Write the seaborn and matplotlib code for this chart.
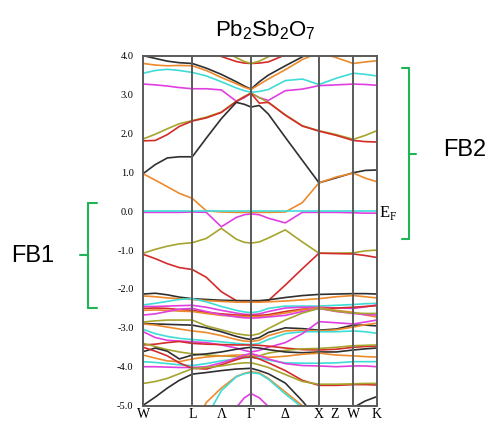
import numpy as np
import pandas as pd
import matplotlib
matplotlib.use("Agg")
import matplotlib.pyplot as plt
import seaborn as sns
from matplotlib.lines import Line2D
from matplotlib.ticker import MultipleLocator

sns.set_style("white")
plt.rcParams["font.family"] = ["Liberation Sans", "DejaVu Sans"]
plt.rcParams["text.color"] = "black"
plt.rcParams["xtick.color"] = "black"
plt.rcParams["ytick.color"] = "black"

# ---- k-path (distance along path) ----
kgrid = [0, 12, 24, 36, 49, 63, 78, 93, 101, 107.7, 116, 125, 142, 159, 175.7, 193, 210, 222, 233.4]
sym_pos = [0, 49, 78.4, 107.7, 141.7, 175.7, 191.7, 210, 233.4]
sym_labels = ["W", "L", "Λ", "Γ", "Δ", "X", "Z", "W", "K"]
vlines_k = [49, 107.7, 175.7, 210]

# ---- colours ----
BLK, ORG, CYN, MAG, OLV, RED = "#2f2f2f", "#ec8a2c", "#3fdcd6", "#e03fe0", "#a6a42e", "#d42b2b"

# ---- conduction bands ----
c_red_top    = [4.6, 4.5, 4.4, 4.3, 4.25, 4.15, 3.98, 3.85, 3.81, 3.80, 3.81, 3.84, 4.02, 4.2, 4.3, 4.3, 4.3, 4.3, 4.3]
c_olive_top  = [4.6, 4.5, 4.4, 4.3, 4.3, 4.25, 4.15, 3.95, 3.85, 3.80, 3.86, 3.97, 4.2, 4.3, 4.3, 4.3, 4.3, 4.3, 4.3]
c_black_top  = [4.00, 3.93, 3.86, 3.82, 3.80, 3.68, 3.52, 3.33, 3.22, 3.14, 3.33, 3.50, 3.74, 3.97, 4.2, 4.3, 4.3, 4.3, 4.3]
c_orange_top = [3.80, 3.76, 3.74, 3.75, 3.74, 3.62, 3.44, 3.28, 3.19, 3.13, 3.26, 3.40, 3.64, 3.90, 4.08, 3.95, 3.80, 3.84, 3.87]
c_cyan       = [3.55, 3.62, 3.65, 3.62, 3.57, 3.48, 3.33, 3.17, 3.10, 3.06, 3.08, 3.13, 3.36, 3.40, 3.26, 3.42, 3.55, 3.52, 3.48]
c_magenta    = [3.27, 3.25, 3.22, 3.18, 3.15, 3.15, 3.12, 2.83, 2.92, 3.04, 2.92, 2.85, 3.10, 3.14, 3.23, 3.25, 3.27, 3.26, 3.24]
c_olive      = [1.86, 1.98, 2.12, 2.25, 2.33, 2.42, 2.55, 2.83, 2.95, 3.04, 2.92, 2.80, 2.48, 2.20, 2.07, 1.97, 1.85, 1.95, 2.07]
c_red        = [1.81, 1.82, 1.97, 2.18, 2.32, 2.40, 2.54, 2.82, 2.94, 3.03, 2.78, 2.80, 2.47, 2.19, 2.06, 1.95, 1.82, 1.79, 1.78]
c_black      = [0.97, 1.20, 1.37, 1.40, 1.40, 1.88, 2.38, 2.80, 2.75, 2.68, 2.72, 2.50, 1.90, 1.31, 0.73, 0.86, 0.99, 1.05, 1.06]
c_orange     = [0.96, 0.80, 0.63, 0.46, 0.33, 0.01, -0.02, -0.03, -0.03, -0.03, -0.03, -0.03, -0.02, 0.22, 0.73, 0.88, 0.98, 0.85, 0.76]

# ---- flat bands near E_F ----
f_cyan    = [0.00, 0.00, 0.00, 0.00, 0.00, 0.00, 0.00, 0.00, 0.00, 0.00, 0.00, 0.00, 0.00, 0.00, 0.00, 0.00, 0.00, 0.00, 0.00]
f_magenta = [-0.03, -0.03, -0.03, -0.03, -0.02, -0.03, -0.40, -0.16, -0.09, -0.07, -0.09, -0.18, -0.30, -0.03, -0.03, -0.03, -0.04, -0.05, -0.05]
f_olive   = [-1.08, -0.98, -0.90, -0.84, -0.81, -0.70, -0.44, -0.72, -0.80, -0.82, -0.79, -0.69, -0.48, -0.79, -1.08, -1.08, -1.07, -1.02, -1.00]
v_red     = [-1.11, -1.22, -1.35, -1.45, -1.50, -1.70, -2.07, -2.30, -2.31, -2.31, -2.31, -2.30, -1.90, -1.48, -1.08, -1.09, -1.10, -1.14, -1.19]

# ---- dense valence bands ----
v01_black   = [-2.13, -2.11, -2.15, -2.21, -2.25, -2.27, -2.29, -2.30, -2.30, -2.30, -2.30, -2.28, -2.22, -2.17, -2.14, -2.13, -2.12, -2.12, -2.13]
v02_orange  = [-2.18, -2.20, -2.23, -2.25, -2.27, -2.30, -2.32, -2.34, -2.34, -2.34, -2.34, -2.33, -2.31, -2.28, -2.25, -2.20, -2.17, -2.20, -2.23]
v03_cyan    = [-2.41, -2.37, -2.32, -2.27, -2.25, -2.33, -2.45, -2.55, -2.59, -2.61, -2.58, -2.50, -2.44, -2.44, -2.44, -2.42, -2.40, -2.38, -2.37]
v04_magenta = [-2.45, -2.45, -2.44, -2.43, -2.42, -2.47, -2.55, -2.62, -2.65, -2.66, -2.64, -2.58, -2.49, -2.47, -2.47, -2.49, -2.50, -2.46, -2.41]
v05_red     = [-2.50, -2.49, -2.50, -2.53, -2.55, -2.60, -2.64, -2.67, -2.68, -2.68, -2.68, -2.66, -2.58, -2.52, -2.50, -2.49, -2.47, -2.45, -2.43]
v06_orange  = [-2.55, -2.54, -2.55, -2.57, -2.58, -2.63, -2.68, -2.70, -2.71, -2.71, -2.71, -2.69, -2.62, -2.54, -2.48, -2.55, -2.60, -2.67, -2.72]
v07_magenta = [-2.67, -2.64, -2.58, -2.52, -2.50, -2.58, -2.66, -2.72, -2.74, -2.75, -2.74, -2.72, -2.68, -2.58, -2.50, -2.58, -2.63, -2.66, -2.67]
v08_olive   = [-2.85, -2.82, -2.80, -2.80, -2.80, -2.95, -3.05, -3.15, -3.18, -3.20, -3.15, -3.02, -2.80, -2.62, -2.50, -2.57, -2.62, -2.63, -2.63]
v09_black   = [-2.89, -2.90, -2.91, -2.92, -2.93, -3.00, -3.10, -3.22, -3.27, -3.30, -3.25, -3.12, -3.00, -3.02, -3.06, -3.03, -2.93, -2.93, -2.95]
v10_orange  = [-2.90, -2.93, -2.98, -3.03, -3.08, -3.12, -3.20, -3.30, -3.34, -3.35, -3.32, -3.20, -3.08, -3.06, -3.08, -3.05, -2.98, -2.92, -2.88]
v11_cyan    = [-3.04, -3.15, -3.22, -3.27, -3.30, -3.33, -3.36, -3.40, -3.42, -3.43, -3.40, -3.30, -3.15, -3.10, -3.10, -3.10, -3.08, -3.10, -3.14]
v12_magenta = [-3.10, -3.25, -3.32, -3.34, -3.36, -3.38, -3.44, -3.52, -3.58, -3.62, -3.58, -3.50, -3.38, -3.15, -2.84, -2.87, -2.90, -2.85, -2.80]
v13_red     = [-3.44, -3.42, -3.38, -3.35, -3.40, -3.42, -3.43, -3.44, -3.44, -3.44, -3.45, -3.47, -3.52, -3.56, -3.57, -3.55, -3.50, -3.48, -3.47]
v14_olive   = [-3.40, -3.48, -3.56, -3.62, -3.67, -3.70, -3.72, -3.74, -3.75, -3.75, -3.72, -3.65, -3.58, -3.54, -3.53, -3.50, -3.46, -3.45, -3.44]
v15_black   = [-3.61, -3.52, -3.60, -3.80, -3.70, -3.67, -3.62, -3.55, -3.52, -3.50, -3.52, -3.56, -3.62, -3.64, -3.62, -3.62, -3.57, -3.54, -3.52]
v16_orange  = [-3.70, -3.78, -3.85, -3.87, -3.80, -3.75, -3.72, -3.70, -3.70, -3.70, -3.72, -3.76, -3.73, -3.68, -3.65, -3.70, -3.72, -3.74, -3.75]
v17_cyan    = [-3.87, -3.89, -3.92, -3.95, -3.97, -3.92, -3.85, -3.80, -3.77, -3.76, -3.78, -3.83, -3.90, -3.91, -3.91, -3.90, -3.87, -3.87, -3.87]
v18_magenta = [-4.00, -4.00, -4.01, -4.02, -4.02, -4.00, -3.90, -3.78, -3.70, -3.66, -3.72, -3.80, -3.92, -3.97, -3.98, -4.00, -3.98, -3.98, -4.00]
v19_red     = [-3.50, -3.60, -3.72, -3.90, -4.04, -4.06, -3.95, -3.82, -3.76, -3.75, -3.80, -3.90, -4.10, -4.35, -4.48, -4.48, -4.46, -4.46, -4.47]
v20_olive   = [-4.43, -4.38, -4.30, -4.18, -4.05, -4.02, -3.98, -3.92, -3.90, -3.90, -3.95, -4.02, -4.20, -4.38, -4.45, -4.45, -4.44, -4.43, -4.43]
v21_black   = [-4.99, -4.78, -4.55, -4.35, -4.19, -4.15, -4.10, -4.06, -4.05, -4.04, -4.10, -4.18, -4.42, -4.88, -5.40, -5.40, -5.05, -4.88, -4.77]
v22_orange  = [-6.0, -6.0, -6.0, -6.0, -5.6, -4.92, -4.55, -4.25, -4.17, -4.13, -4.16, -4.30, -4.65, -5.00, -5.50, -6.0, -6.0, -6.0, -6.0]
v23_cyan    = [-6.0, -6.0, -6.0, -6.0, -6.0, -5.30, -4.62, -4.26, -4.18, -4.15, -4.18, -4.32, -4.70, -5.05, -5.60, -6.0, -6.0, -6.0, -6.0]
v24_magenta = [-6.0, -6.0, -6.0, -6.0, -6.0, -6.0, -5.80, -5.05, -4.80, -4.69, -4.80, -5.02, -5.80, -6.0, -6.0, -6.0, -6.0, -6.0, -6.0]

bands = [
    ("c_red_top", c_red_top, RED), ("c_olive_top", c_olive_top, OLV),
    ("c_black_top", c_black_top, BLK), ("c_orange_top", c_orange_top, ORG),
    ("c_cyan", c_cyan, CYN), ("c_magenta", c_magenta, MAG),
    ("c_olive", c_olive, OLV), ("c_red", c_red, RED),
    ("c_black", c_black, BLK), ("c_orange", c_orange, ORG),
    ("f_olive", f_olive, OLV), ("f_magenta", f_magenta, MAG), ("f_cyan", f_cyan, CYN),
    ("v_red", v_red, RED),
    ("v01", v01_black, BLK), ("v02", v02_orange, ORG), ("v03", v03_cyan, CYN),
    ("v04", v04_magenta, MAG), ("v05", v05_red, RED), ("v06", v06_orange, ORG),
    ("v07", v07_magenta, MAG), ("v08", v08_olive, OLV), ("v09", v09_black, BLK),
    ("v10", v10_orange, ORG), ("v11", v11_cyan, CYN), ("v12", v12_magenta, MAG),
    ("v13", v13_red, RED), ("v14", v14_olive, OLV), ("v15", v15_black, BLK),
    ("v16", v16_orange, ORG), ("v17", v17_cyan, CYN), ("v18", v18_magenta, MAG),
    ("v19", v19_red, RED), ("v20", v20_olive, OLV), ("v21", v21_black, BLK),
    ("v22", v22_orange, ORG), ("v23", v23_cyan, CYN), ("v24", v24_magenta, MAG),
]

rows = []
for name, vals, col in bands:
    for k, e in zip(kgrid, vals):
        rows.append((name, k, e))
df = pd.DataFrame(rows, columns=["band", "k", "E"])
palette = {name: col for name, vals, col in bands}

W, H = 494, 425
fig = plt.figure(figsize=(W / 100, H / 100), dpi=100)
ax = fig.add_axes([143.3 / W, 1 - 405.6 / H, (376.7 - 143.3) / W, (405.6 - 55.7) / H])

sns.lineplot(data=df, x="k", y="E", hue="band", palette=palette, estimator=None,
             sort=False, legend=False, linewidth=1.2, ax=ax)

for kv in vlines_k:
    ax.axvline(kv, color="#5a5a5a", lw=1.4, zorder=3)

ax.set_xlim(0, 233.4)
ax.set_ylim(-5, 4)
for s in ax.spines.values():
    s.set_color("#5a5a5a")
    s.set_linewidth(1.4)

yt = np.arange(-5, 4.01, 1.0)
ax.set_yticks(yt)
ax.set_yticklabels([f"{v:.1f}" for v in yt], family="Liberation Serif", fontsize=7.5, color="black")
ax.yaxis.set_minor_locator(MultipleLocator(0.1))
ax.tick_params(axis="y", which="major", direction="out", length=5, width=0.8, color="#444", pad=2)
ax.tick_params(axis="y", which="minor", direction="out", length=3, width=0.6, color="#444")
ax.set_xticks(sym_pos)
ax.set_xticklabels(sym_labels, family="Liberation Serif", fontsize=10, color="black")
ax.tick_params(axis="x", length=0, pad=2)
ax.set_xlabel("")
ax.set_ylabel("")

def fx(x):
    return x / W

def fy(y):
    return 1 - y / H

fig.text(fx(265), fy(30), r"Pb$_\mathregular{2}$Sb$_\mathregular{2}$O$_\mathregular{7}$",
         ha="center", va="center", fontsize=16, family="Liberation Sans", color="black")
fig.text(fx(379), fy(213), r"E$_\mathregular{F}$", ha="left", va="center",
         fontsize=12, family="Liberation Serif", color="black")
fig.text(fx(33), fy(256), "FB1", ha="center", va="center", fontsize=17,
         family="Liberation Sans", color="black")
fig.text(fx(465), fy(150), "FB2", ha="center", va="center", fontsize=17,
         family="Liberation Sans", color="black")

GRN = "#1fb456"
def seg(x0, y0, x1, y1):
    fig.add_artist(Line2D([fx(x0), fx(x1)], [fy(y0), fy(y1)], color=GRN, lw=1.5,
                          transform=fig.transFigure))

# FB1 bracket
seg(88, 203, 88, 308); seg(88, 203, 97, 203); seg(88, 308, 97, 308); seg(80, 255, 88, 255)
# FB2 bracket
seg(409, 68, 409, 239); seg(402, 68, 409, 68); seg(402, 239, 409, 239); seg(409, 154, 416, 154)

fig.savefig("out.png", dpi=100)
